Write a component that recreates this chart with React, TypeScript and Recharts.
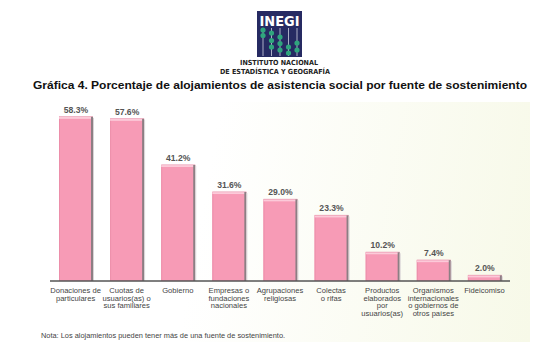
import React from "react";
import { BarChart, Bar, XAxis, YAxis, LabelList } from "recharts";

const categories = [
  "Donaciones de\nparticulares",
  "Cuotas de\nusuarios(as) o\nsus familiares",
  "Gobierno",
  "Empresas o\nfundaciones\nnacionales",
  "Agrupaciones\nreligiosas",
  "Colectas\no rifas",
  "Productos\nelaborados\npor\nusuarios(as)",
  "Organismos\ninternacionales\no gobiernos de\notros países",
  "Fideicomiso",
];
const values = [58.3, 57.6, 41.2, 31.6, 29.0, 23.3, 10.2, 7.4, 2.0];

const data = categories.map((c, i) => ({ name: c, value: values[i] }));

const FONT = "'Liberation Sans', Arial, sans-serif";

const BarShape = (props: any) => {
  const { x, y, width, height } = props;
  if (!height || height <= 0) return null;
  return (
    <g>
      <rect x={x} y={y} width={width} height={height} fill="#F79BB6" />
      <rect x={x} y={y} width={1} height={height} fill="#EC8EAA" />
      <rect x={x} y={y} width={width} height={Math.min(2, height)} fill="#FCCAD9" />
      <rect x={x} y={y - 0.5} width={width} height={0.6} fill="#E793AC" />
      <rect x={x + width - 2} y={y} width={2} height={height} fill="#8C7F84" />
      <rect x={x + width} y={y + 1} width={1} height={height - 1} fill="#D9D4D6" />
    </g>
  );
};

const CatTick = (props: any) => {
  const { x, y, payload } = props;
  const lines = String(payload.value).split("\n");
  return (
    <g>
      {lines.map((l, i) => (
        <text
          key={i}
          x={x}
          y={y + 12 + i * 7.7}
          textAnchor="middle"
          fontFamily={FONT}
          fontSize={7.6}
          fill="#444"
        >
          {l}
        </text>
      ))}
    </g>
  );
};

const ValueLabel = (props: any) => {
  const { x, y, width, value } = props;
  return (
    <text
      x={x + width / 2}
      y={y - 4}
      textAnchor="middle"
      fontFamily={FONT}
      fontSize={8.6}
      fontWeight="bold"
      fill="#555"
    >
      {Number(value).toFixed(1) + "%"}
    </text>
  );
};

const beads: [number, number][] = [
  [263, 30], [263, 35.5],
  [271.5, 33], [271.5, 40.5], [271.5, 47],
  [280, 37], [280, 43.5], [280, 50],
  [288.5, 47], [288.5, 53],
  [297, 43], [297, 50],
];

export default function App() {
  return (
    <div style={{ position: "absolute", left: 0, top: 0, width: 544, height: 358, background: "#fff", overflow: "hidden" }}>
      <div
        style={{
          position: "absolute",
          left: 30,
          top: 102,
          width: 500,
          height: 240,
          background: "linear-gradient(100deg, #ffffff 35%, #f7f9e8 100%)",
        }}
      />
      <div style={{ position: "absolute", left: 0, top: 0 }}>
        <BarChart width={544} height={358} data={data} margin={{ top: 98, right: 34, bottom: 47, left: 50 }} barSize={34}>
          <YAxis hide domain={[0, 65]} />
          <XAxis
            dataKey="name"
            interval={0}
            height={30}
            tickLine={false}
            tickSize={0}
            tickMargin={0}
            axisLine={{ stroke: "#555", strokeWidth: 1.5 }}
            tick={<CatTick />}
          />
          <Bar dataKey="value" isAnimationActive={false} shape={<BarShape />}>
            <LabelList dataKey="value" content={<ValueLabel />} />
          </Bar>
        </BarChart>
      </div>
      <svg width={544} height={358} style={{ position: "absolute", left: 0, top: 0, pointerEvents: "none" }}>
        <rect x={257} y={11} width={45} height={46} fill="#262A62" />
        <text x={279.5} y={26} textAnchor="middle" fontFamily="'DejaVu Sans', sans-serif" fontWeight="bold" fontSize={14} fill="#fff" textLength={40} lengthAdjust="spacingAndGlyphs">
          INEGI
        </text>
        {[263, 271.5, 280, 288.5, 297].map((rx) => (
          <rect key={rx} x={rx - 0.4} y={28} width={0.8} height={28} fill="#cfd0e0" />
        ))}
        {beads.map(([bx, by], i) => (
          <circle key={i} cx={bx} cy={by} r={2.6} fill="#2FA57D" />
        ))}
        <text x={279} y={65} textAnchor="middle" fontFamily="'DejaVu Sans', sans-serif" fontWeight="bold" fontSize={7} fill="#222" textLength={78} lengthAdjust="spacingAndGlyphs">
          INSTITUTO NACIONAL
        </text>
        <text x={275} y={74} textAnchor="middle" fontFamily="'DejaVu Sans', sans-serif" fontWeight="bold" fontSize={7} fill="#222" textLength={110} lengthAdjust="spacingAndGlyphs">
          DE ESTADÍSTICA Y GEOGRAFÍA
        </text>
        <text x={280} y={89} textAnchor="middle" fontFamily={FONT} fontWeight="bold" fontSize={11.6} fill="#111" textLength={494} lengthAdjust="spacingAndGlyphs">
          Gráfica 4. Porcentaje de alojamientos de asistencia social por fuente de sostenimiento
        </text>
        <text x={41} y={338} fontFamily={FONT} fontSize={7.4} fill="#444">
          Nota: Los alojamientos pueden tener más de una fuente de sostenimiento.
        </text>
      </svg>
    </div>
  );
}
